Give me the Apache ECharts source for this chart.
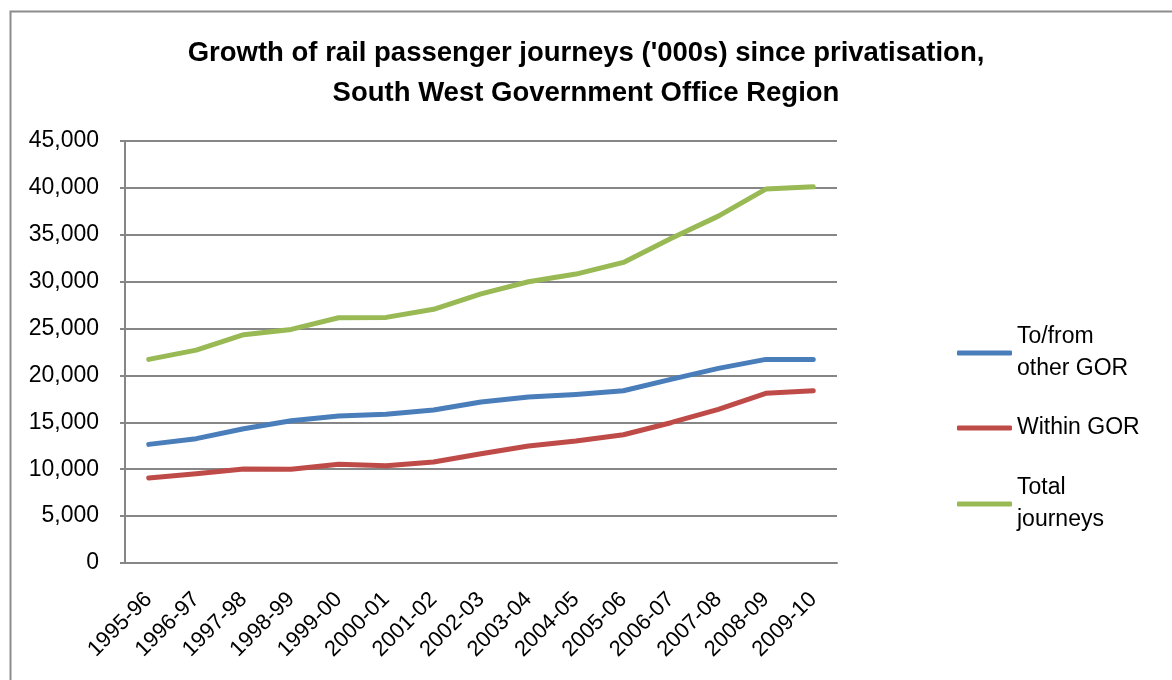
<!DOCTYPE html>
<html>
<head>
<meta charset="utf-8">
<script src="https://cdn.jsdelivr.net/npm/echarts@6/dist/echarts.min.js"></script>
<style>
html,body{margin:0;padding:0;background:#fff;}
#chart{width:1172px;height:680px;}
</style>
</head>
<body>
<div id="chart"></div>
<script>
var categories = ['1995-96','1996-97','1997-98','1998-99','1999-00','2000-01','2001-02','2002-03','2003-04','2004-05','2005-06','2006-07','2007-08','2008-09','2009-10'];
var toFromOther = [12650,13260,14320,15170,15670,15850,16310,17160,17700,17980,18370,19580,20750,21710,21710];
var withinGOR = [9060,9520,10020,9990,10520,10370,10770,11650,12470,13010,13680,14960,16390,18090,18370];
var totalJourneys = [21710,22700,24340,24910,26150,26190,27050,28700,29990,30810,32050,34600,36990,39870,40120];
var seriesNames = ['To/from\nother GOR','Within GOR','Total\njourneys'];
var seriesColors = ['#4A7EBB','#BE4B48','#98B954'];
var yTicks = {min:0, max:45000, interval:5000};

var FONT = 'Liberation Sans';
var chart = echarts.init(document.getElementById('chart'), null, {renderer:'canvas'});

function legendFor(name, top, twoLine){
  return {
    data:[{name:name, icon:'roundRect'}],
    orient:'vertical',
    left:957,
    top:top,
    itemWidth:55,
    itemHeight:5,
    itemGap:5,
    padding:0,
    textStyle:{fontFamily:FONT, fontSize:23, color:'#000', lineHeight:32, padding: twoLine ? [32,0,0,0] : 0}
  };
}

function lineSeries(i, data){
  return {name:seriesNames[i], type:'line', data:data, symbol:'none',
    lineStyle:{color:seriesColors[i], width:5, cap:'round', join:'round'},
    itemStyle:{color:seriesColors[i]}};
}

var option = {
  backgroundColor:'#fff',
  animation:false,
  title:{
    text:"Growth of rail passenger journeys ('000s) since privatisation,\nSouth West Government Office Region",
    left:'center',
    top:28,
    textStyle:{fontFamily:FONT, fontSize:27.5, fontWeight:'bold', color:'#000', lineHeight:40, align:'center'}
  },
  legend:[
    legendFor(seriesNames[0], 305, true),
    legendFor(seriesNames[1], 412, false),
    legendFor(seriesNames[2], 456, true)
  ],
  grid:{left:125, right:335, top:141, bottom:117, containLabel:false},
  xAxis:{
    type:'category',
    data:categories,
    boundaryGap:true,
    axisLine:{show:true, lineStyle:{color:'#868686', width:2}},
    axisTick:{show:false},
    axisLabel:{rotate:45, fontFamily:FONT, fontSize:22, color:'#000', margin:33, interval:0}
  },
  yAxis:{
    type:'value',
    min:yTicks.min, max:yTicks.max, interval:yTicks.interval,
    axisLine:{show:true, lineStyle:{color:'#868686', width:2}},
    axisTick:{show:true, length:5, lineStyle:{color:'#868686', width:2}},
    splitLine:{show:true, lineStyle:{color:'#868686', width:2}},
    axisLabel:{fontFamily:FONT, fontSize:23, color:'#000', margin:26,
      formatter:function(v){return v.toLocaleString('en-US');}}
  },
  series:[
    lineSeries(0, toFromOther),
    lineSeries(1, withinGOR),
    lineSeries(2, totalJourneys)
  ],
  graphic:[
    {type:'rect', left:8, top:9, silent:true, z:-10,
     shape:{width:1300, height:800},
     style:{fill:null, stroke:'#8c8c8c', lineWidth:2}}
  ]
};
chart.setOption(option);
</script>
</body>
</html>
